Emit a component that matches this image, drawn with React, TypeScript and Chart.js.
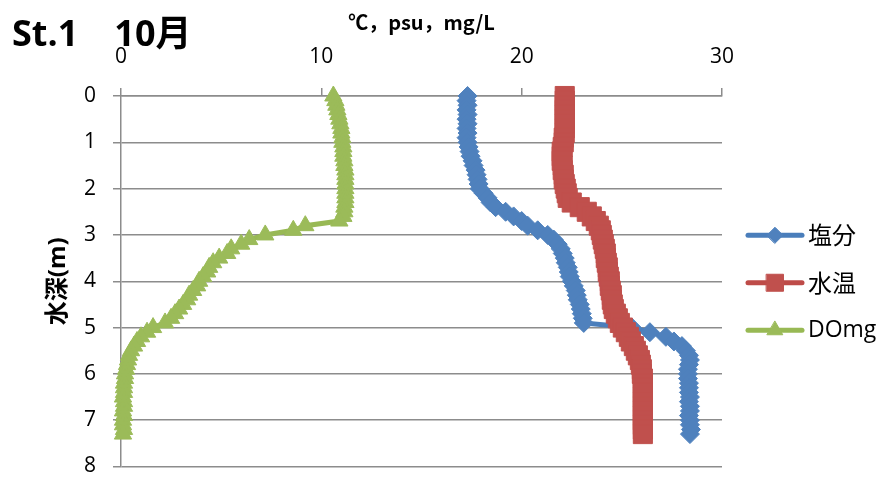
import React, { useEffect, useRef } from "react";
import { Chart, registerables } from "chart.js";
import { drawPoint } from "chart.js/helpers";

Chart.register(...registerables);

const titleText = "St.1\u300010月";
const xAxisTitle = "℃，psu，mg/L";
const yAxisTitle = "水深(m)";
const seriesNames = ["塩分", "水温", "DOmg"];
const xTickValues = [0, 10, 20, 30];
const yTickValues = [0, 1, 2, 3, 4, 5, 6, 7, 8];

const depths = [
  0.0, 0.1, 0.2, 0.3, 0.4, 0.5, 0.6, 0.7, 0.8, 0.9,
  1.0, 1.1, 1.2, 1.3, 1.4, 1.5, 1.6, 1.7, 1.8, 1.9,
  2.0, 2.1, 2.2, 2.3, 2.4, 2.5, 2.6, 2.7, 2.8, 2.9,
  3.0, 3.1, 3.2, 3.3, 3.4, 3.5, 3.6, 3.7, 3.8, 3.9,
  4.0, 4.1, 4.2, 4.3, 4.4, 4.5, 4.6, 4.7, 4.8, 4.9,
  5.0, 5.1, 5.2, 5.3, 5.4, 5.5, 5.6, 5.7, 5.8, 5.9,
  6.0, 6.1, 6.2, 6.3, 6.4, 6.5, 6.6, 6.7, 6.8, 6.9,
  7.0, 7.1, 7.2, 7.3,
];

const salinity = [
  17.3, 17.25, 17.3, 17.25, 17.3, 17.25, 17.3, 17.25, 17.3, 17.25,
  17.3, 17.35, 17.4, 17.45, 17.55, 17.6, 17.7, 17.75, 17.8, 17.85,
  17.9, 18.1, 18.3, 18.45, 18.7, 19.2, 19.6, 20.0, 20.3, 20.8,
  21.3, 21.6, 21.8, 21.95, 22.05, 22.15, 22.2, 22.3, 22.35, 22.4,
  22.5, 22.6, 22.7, 22.75, 22.8, 22.9, 22.95, 23.0, 23.05, 23.1,
  25.5, 26.4, 27.2, 27.6, 28.0, 28.2, 28.35, 28.4, 28.35, 28.3,
  28.3, 28.3, 28.35, 28.35, 28.35, 28.4, 28.35, 28.4, 28.4, 28.35,
  28.4, 28.4, 28.45, 28.4,
];

const temperature = [
  22.15, 22.15, 22.15, 22.15, 22.15, 22.15, 22.15, 22.15, 22.15, 22.1,
  22.1, 22.05, 22.0, 22.0, 22.0, 22.05, 22.05, 22.1, 22.1, 22.15,
  22.2, 22.25, 22.3, 22.5, 22.9, 23.25, 23.5, 23.7, 23.85, 23.95,
  24.0, 24.05, 24.1, 24.15, 24.2, 24.2, 24.25, 24.3, 24.3, 24.35,
  24.4, 24.4, 24.45, 24.5, 24.5, 24.55, 24.6, 24.7, 24.8, 24.9,
  25.05, 25.2, 25.35, 25.45, 25.6, 25.7, 25.8, 25.9, 25.95, 26.0,
  26.0, 26.05, 26.05, 26.05, 26.05, 26.05, 26.05, 26.05, 26.05, 26.05,
  26.05, 26.05, 26.05, 26.05,
];

const dissolvedOxygen = [
  10.6, 10.7, 10.75, 10.8, 10.85, 10.9, 10.95, 11.0, 11.0, 11.05,
  11.05, 11.1, 11.1, 11.1, 11.15, 11.15, 11.2, 11.2, 11.2, 11.2,
  11.2, 11.2, 11.2, 11.2, 11.15, 11.15, 11.1, 10.9, 9.2, 8.6,
  7.2, 6.4, 6.0, 5.5, 5.3, 4.9, 4.6, 4.4, 4.3, 4.1,
  3.9, 3.8, 3.6, 3.4, 3.3, 3.1, 2.9, 2.7, 2.5, 2.2,
  1.6, 1.3, 1.0, 0.8, 0.65, 0.5, 0.4, 0.35, 0.3, 0.25,
  0.2, 0.2, 0.15, 0.15, 0.15, 0.1, 0.15, 0.15, 0.1, 0.15,
  0.1, 0.1, 0.15, 0.1,
];

const FONT_LATIN = "'Open Sans', 'Noto Sans CJK JP', sans-serif";
const FONT_CJK = "'Noto Sans CJK JP', 'Open Sans', sans-serif";

const seriesStyles = [
  { line: "#4A7EBB", fill: "#4F81BD", point: "rectRot", radius: 9.5 },
  { line: "#BE4B48", fill: "#C0504D", point: "rect", radius: 13.5 },
  { line: "#98B954", fill: "#9BBB59", point: "triangle", radius: 10 },
];

const toPoints = (vals: number[]) => vals.map((v, i) => ({ x: v, y: depths[i] }));

export default function App() {
  const ref = useRef<HTMLCanvasElement | null>(null);

  useEffect(() => {
    const canvas = ref.current;
    if (!canvas) return;
    const seriesValues = [salinity, temperature, dissolvedOxygen];

    const overlay = {
      id: "overlay",
      afterDraw(chart: any) {
        const ctx = chart.ctx;
        const area = chart.chartArea;
        ctx.save();
        ctx.fillStyle = "#000";
        ctx.font = `bold 36px ${FONT_LATIN}`;
        ctx.textAlign = "left";
        ctx.textBaseline = "alphabetic";
        ctx.fillText(titleText, 12, 46);
        const mid = (area.top + area.bottom) / 2 + 1.5;
        const gap = 47.5;
        seriesNames.forEach((name, i) => {
          const st = seriesStyles[i];
          const y = mid + (i - 1) * gap;
          const x0 = area.right + 26;
          const x1 = area.right + 80;
          ctx.strokeStyle = st.line;
          ctx.lineWidth = 5;
          ctx.lineCap = "round";
          ctx.beginPath();
          ctx.moveTo(x0, y);
          ctx.lineTo(x1, y);
          ctx.stroke();
          ctx.fillStyle = st.fill;
          ctx.strokeStyle = st.fill;
          ctx.lineWidth = 1;
          const r = st.point === "rect" ? 12 : st.point === "rectRot" ? 8 : 9;
          drawPoint(ctx, { pointStyle: st.point, rotation: 0, borderWidth: 1, radius: r }, (x0 + x1) / 2, y);
          ctx.fillStyle = "#000";
          ctx.font = i === 2 ? `23px ${FONT_LATIN}` : `24px ${FONT_CJK}`;
          ctx.textAlign = "left";
          ctx.textBaseline = "middle";
          ctx.fillText(name, area.right + 86, y);
        });
        ctx.restore();
      },
    };

    const chart = new Chart(canvas, {
      type: "scatter",
      data: {
        datasets: seriesNames.map((name, i) => ({
          label: name,
          data: toPoints(seriesValues[i]),
          showLine: true,
          borderColor: seriesStyles[i].line,
          borderWidth: 5,
          backgroundColor: seriesStyles[i].fill,
          pointStyle: seriesStyles[i].point as any,
          pointRadius: seriesStyles[i].radius,
          pointBackgroundColor: seriesStyles[i].fill,
          pointBorderColor: seriesStyles[i].fill,
          pointBorderWidth: 1,
          clip: false as any,
          order: 3 - i,
        })),
      },
      options: {
        animation: false,
        responsive: true,
        maintainAspectRatio: false,
        devicePixelRatio: 1,
        layout: { padding: { left: 0, top: 0, right: 155, bottom: 12 } },
        plugins: {
          legend: { display: false },
          tooltip: { enabled: false },
          title: { display: false },
        },
        scales: {
          x: {
            type: "linear",
            position: "top",
            min: 0,
            max: 30,
            afterBuildTicks: (scale: any) => {
              scale.ticks = xTickValues.map((v) => ({ value: v }));
            },
            afterFit: (scale: any) => {
              scale.height = 96;
              scale.paddingLeft = 0;
              scale.paddingRight = 0;
            },
            grid: {
              drawOnChartArea: false,
              drawTicks: true,
              tickLength: 8,
              color: "#8C8C8C",
              lineWidth: 1.5,
            },
            border: { display: true, color: "#8C8C8C", width: 1.5 },
            ticks: {
              color: "#000",
              font: { family: FONT_LATIN, size: 21 },
              padding: 18,
              maxRotation: 0,
            },
            title: {
              display: true,
              text: xAxisTitle,
              color: "#000",
              font: { family: "'Noto Sans CJK JP'", size: 20, weight: "bold" },
              padding: { top: 10, bottom: 0 },
            },
          },
          y: {
            type: "linear",
            position: "left",
            reverse: true,
            min: 0,
            max: 8,
            afterBuildTicks: (scale: any) => {
              scale.ticks = yTickValues.map((v) => ({ value: v }));
            },
            afterFit: (scale: any) => {
              scale.width = 121;
              scale.paddingTop = 0;
              scale.paddingBottom = 0;
            },
            grid: {
              drawOnChartArea: true,
              drawTicks: true,
              tickLength: 8,
              color: "#8C8C8C",
              lineWidth: 1.5,
            },
            border: { display: true, color: "#8C8C8C", width: 1.5 },
            ticks: {
              color: "#000",
              font: { family: FONT_LATIN, size: 21 },
              padding: 17,
            },
            title: {
              display: true,
              text: yAxisTitle,
              color: "#000",
              font: { family: FONT_LATIN, size: 24, weight: "bold" },
              padding: { top: 44, bottom: 0 },
            },
          },
        },
      },
      plugins: [overlay],
    } as any);

    return () => chart.destroy();
  }, []);

  return (
    <div style={{ position: "fixed", left: 0, top: 0, width: 877, height: 481, background: "#fff" }}>
      <canvas ref={ref} />
    </div>
  );
}
